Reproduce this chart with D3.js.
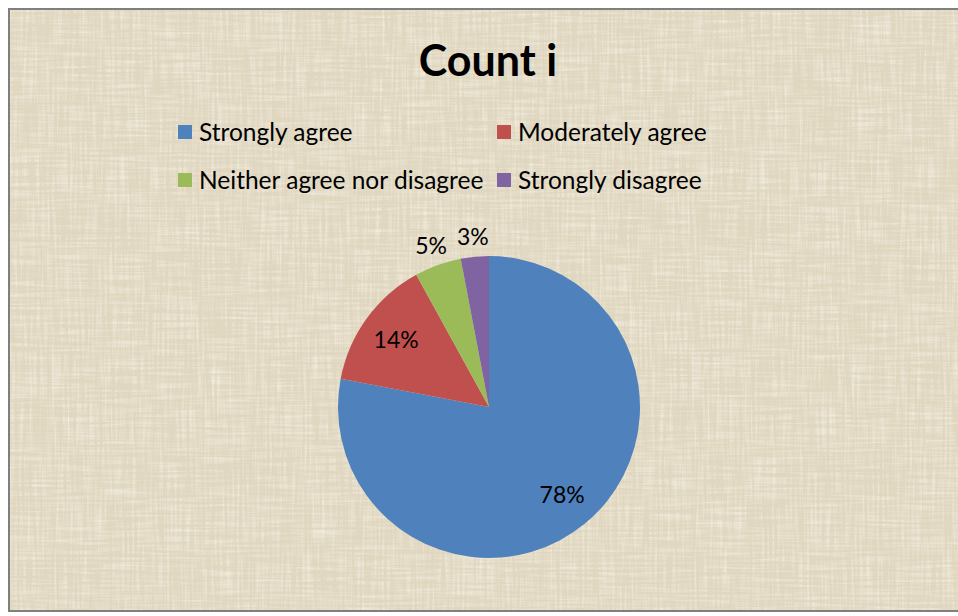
<!DOCTYPE html>
<html>
<head>
<meta charset="utf-8">
<script src="https://cdn.jsdelivr.net/npm/d3@7/dist/d3.min.js"></script>
<style>
  html, body { margin: 0; padding: 0; background: #ffffff; }
  svg { display: block; }
</style>
</head>
<body>
<svg id="chart" width="958" height="616"></svg>
<script>
// Survey responses for "Count i", as shares of all answers
const categories = ["Strongly agree", "Moderately agree", "Neither agree nor disagree", "Strongly disagree"];
const values = [78, 14, 5, 3];
const colors = ["#4f81bd", "#c0504d", "#9bbb59", "#8064a2"];
const title = "Count i";

const W = 958, H = 616;
const svg = d3.select("#chart");
const defs = svg.append("defs");

// Woven canvas texture: two directional noise layers over a beige base
const f = defs.append("filter").attr("id", "weave")
  .attr("filterUnits", "userSpaceOnUse")
  .attr("x", 0).attr("y", 0).attr("width", W).attr("height", H);
f.append("feTurbulence").attr("type", "fractalNoise")
  .attr("baseFrequency", "0.4 0.02").attr("numOctaves", 2).attr("seed", 3).attr("result", "vert");
f.append("feTurbulence").attr("type", "fractalNoise")
  .attr("baseFrequency", "0.02 0.4").attr("numOctaves", 2).attr("seed", 7).attr("result", "horz");
f.append("feComposite").attr("in", "vert").attr("in2", "horz")
  .attr("operator", "arithmetic").attr("k1", 0).attr("k2", 0.5).attr("k3", 0.5).attr("k4", 0)
  .attr("result", "mix");
// bright threads where noise is high, darker threads where it is low
f.append("feColorMatrix").attr("in", "mix").attr("type", "matrix")
  .attr("values",
    "0 0 0 0 0.95 " +
    "0 0 0 0 0.92 " +
    "0 0 0 0 0.84 " +
    "1.8 0 0 0 -0.78")
  .attr("result", "light");
f.append("feColorMatrix").attr("in", "mix").attr("type", "matrix")
  .attr("values",
    "0 0 0 0 0.74 " +
    "0 0 0 0 0.70 " +
    "0 0 0 0 0.60 " +
    "-1.5 0 0 0 0.55")
  .attr("result", "dark");
f.append("feFlood").attr("flood-color", "#e0d7c0").attr("result", "base");
f.append("feMerge").call(m => {
  m.append("feMergeNode").attr("in", "base");
  m.append("feMergeNode").attr("in", "dark");
  m.append("feMergeNode").attr("in", "light");
});

// Chart area with its grey frame
const frame = { x: 9, y: 9, w: W + 4, h: 602 };
svg.append("clipPath").attr("id", "frameClip")
  .append("rect").attr("x", frame.x).attr("y", frame.y).attr("width", frame.w).attr("height", frame.h);
svg.append("rect")
  .attr("x", 0).attr("y", 0).attr("width", W).attr("height", H)
  .attr("filter", "url(#weave)")
  .attr("clip-path", "url(#frameClip)");
svg.append("rect")
  .attr("x", frame.x).attr("y", frame.y).attr("width", frame.w).attr("height", frame.h)
  .attr("fill", "none").attr("stroke", "#7f7f7f").attr("stroke-width", 2);

const font = "Lato, 'Open Sans', 'Noto Sans', sans-serif";

// Title
svg.append("text")
  .attr("x", 488).attr("y", 76)
  .attr("text-anchor", "middle")
  .attr("font-family", font).attr("font-weight", 700).attr("font-size", 43)
  .attr("fill", "#000")
  .text(title);

// Legend: two columns, two rows
const legendCols = [178, 497];
const legendRows = [132, 180];
const legend = svg.append("g");
categories.forEach((c, i) => {
  const x = legendCols[i % 2], y = legendRows[Math.floor(i / 2)];
  legend.append("rect")
    .attr("x", x).attr("y", y - 7).attr("width", 14).attr("height", 14)
    .attr("fill", colors[i]);
  legend.append("text")
    .attr("x", x + 21).attr("y", y)
    .attr("dy", "0.35em")
    .attr("font-family", font).attr("font-size", 24.5)
    .attr("fill", "#000")
    .text(c);
});

// Pie, clockwise from 12 o'clock
const cx = 489, cy = 407, r = 151;
const pie = d3.pie().sort(null).value(d => d);
const arcs = pie(values);
const arc = d3.arc().innerRadius(0).outerRadius(r);
const g = svg.append("g").attr("transform", `translate(${cx},${cy})`);
g.selectAll("path").data(arcs).join("path")
  .attr("d", arc)
  .attr("fill", (d, i) => colors[i]);

// Value labels: inside for the large slices, just outside for the small ones
const labelArcIn = d3.arc().innerRadius(r * 0.76).outerRadius(r * 0.76);
const labelArcOut = d3.arc().innerRadius(r + 20).outerRadius(r + 20);
const total = d3.sum(values);
g.selectAll("text.val").data(arcs).join("text")
  .attr("class", "val")
  .attr("transform", (d, i) => {
    const p = (i >= 2 ? labelArcOut : labelArcIn).centroid(d);
    return `translate(${p[0]},${p[1]})`;
  })
  .attr("text-anchor", "middle")
  .attr("dy", "0.35em")
  .attr("font-family", font).attr("font-size", 23)
  .attr("fill", "#000")
  .text(d => Math.round(d.value / total * 100) + "%");
</script>
</body>
</html>
